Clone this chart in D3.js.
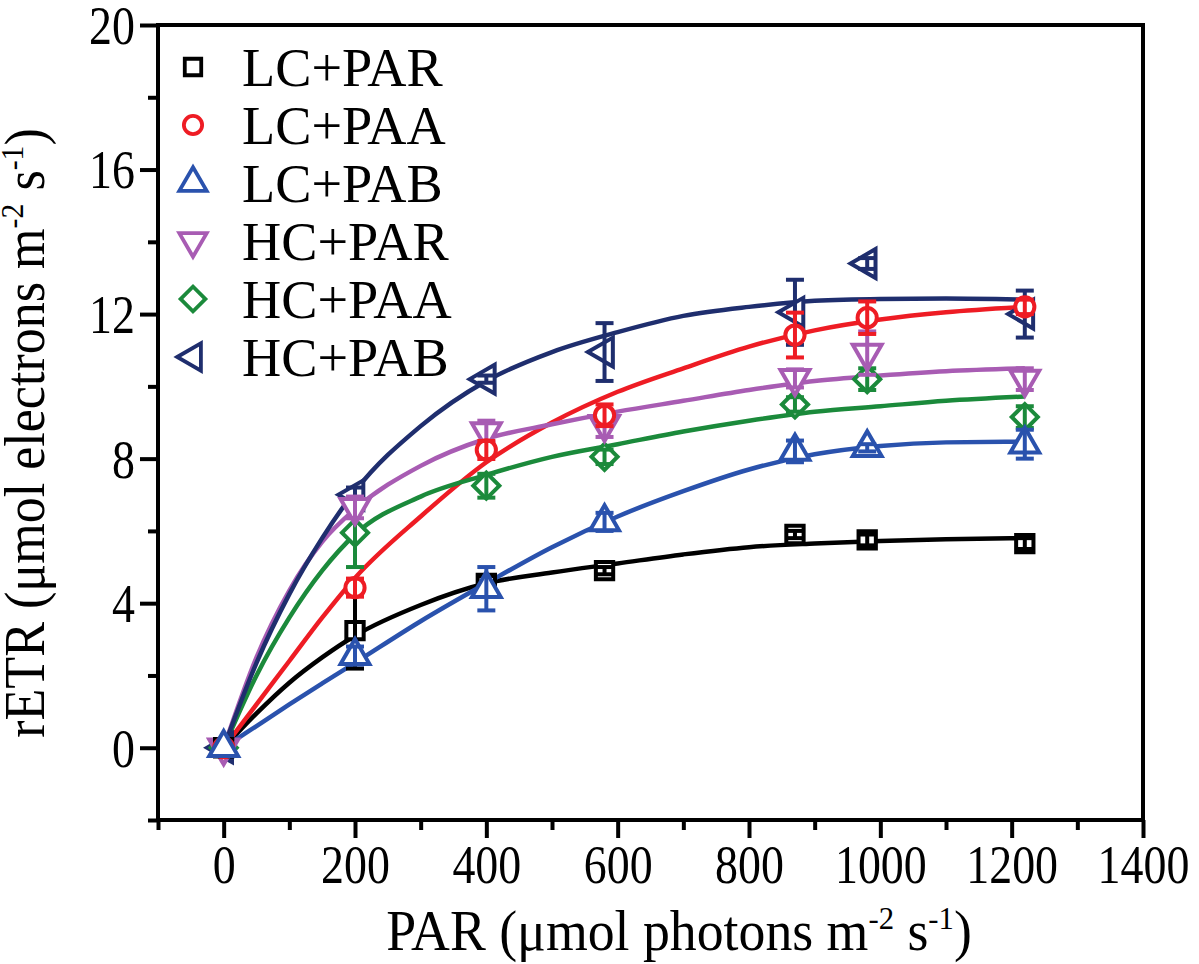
<!DOCTYPE html>
<html>
<head>
<meta charset="utf-8">
<script src="https://cdn.jsdelivr.net/npm/d3@7"></script>
<style>
  body { margin: 0; background: #fff; }
  text { font-family: "Liberation Serif", "Times New Roman", serif; fill: #000; }
</style>
</head>
<body>
<div id="chart"></div>
<script>
// measured PAR levels
var parLevels = [0, 200, 400, 580, 870, 980, 1220];

// means and error bars
var lcParMean = [0, 3.24, 4.55, 4.9, 5.9, 5.75, 5.65];
var lcParErr  = [0, 1.05, 0.2, 0.1, 0.1, 0.15, 0.15];
var lcPaaMean = [0, 4.43, 8.24, 9.2, 11.42, 11.9, 12.2];
var lcPaaErr  = [0, 0.25, 0.25, 0.3, 0.62, 0.45, 0.2];
var lcPabMean = [0, 2.55, 4.4, 6.25, 8.2, 8.3, 8.4];
var lcPabErr  = [0, 0.25, 0.6, 0.25, 0.3, 0.1, 0.4];
var hcParMean = [0, 6.65, 8.75, 8.95, 10.22, 10.92, 10.2];
var hcParErr  = [0, 0.3, 0.3, 0.35, 0.25, 0.6, 0.3];
var hcPaaMean = [0, 5.95, 7.25, 8.05, 9.5, 10.2, 9.15];
var hcPaaErr  = [0, 0.95, 0.33, 0.2, 0.2, 0.3, 0.3];
var hcPabMean = [0, 7.0, 10.2, 10.95, 12.05, 13.4, 12.0];
var hcPabErr  = [0, 0.2, 0.1, 0.8, 0.9, 0.15, 0.65];

// fitted curves, sampled off the figure
var fitPar   = [0, 50, 100, 150, 200, 300, 400, 500, 600, 700, 800, 900, 1000, 1100, 1220];
var lcParFit = [0, 0.95, 1.8, 2.5, 3.1, 3.95, 4.55, 4.85, 5.1, 5.35, 5.55, 5.65, 5.72, 5.77, 5.8];
var lcPaaFit = [0, 1.2, 2.4, 3.6, 4.7, 6.4, 7.9, 9.0, 9.85, 10.5, 11.1, 11.55, 11.85, 12.05, 12.2];
var lcPabFit = [0, 0.6, 1.2, 1.78, 2.35, 3.5, 4.55, 5.55, 6.4, 7.1, 7.7, 8.12, 8.35, 8.45, 8.47];
var hcParFit = [0, 2.5, 4.35, 5.7, 6.6, 7.8, 8.55, 8.95, 9.3, 9.6, 9.9, 10.15, 10.3, 10.42, 10.5];
var hcPaaFit = [0, 2.0, 3.6, 4.9, 5.9, 6.95, 7.55, 8.05, 8.4, 8.75, 9.05, 9.3, 9.45, 9.6, 9.72];
var hcPabFit = [0, 2.35, 4.25, 5.8, 7.1, 8.9, 10.15, 10.95, 11.5, 11.95, 12.2, 12.37, 12.42, 12.43, 12.4];

var seriesNames = ["LC+PAR", "LC+PAA", "LC+PAB", "HC+PAR", "HC+PAA", "HC+PAB"];

var xTicks = [0, 200, 400, 600, 800, 1000, 1200, 1400];
var xMinorTicks = [-100, 100, 300, 500, 700, 900, 1100, 1300];
var yTicks = [0, 4, 8, 12, 16, 20];
var yMinorTicks = [-2, 2, 6, 10, 14, 18];

var series = [
  {name: seriesNames[0], mean: lcParMean, err: lcParErr, fit: lcParFit, color: "#000000", shape: "square"},
  {name: seriesNames[1], mean: lcPaaMean, err: lcPaaErr, fit: lcPaaFit, color: "#ee1c24", shape: "circle"},
  {name: seriesNames[2], mean: lcPabMean, err: lcPabErr, fit: lcPabFit, color: "#2a52ad", shape: "up"},
  {name: seriesNames[3], mean: hcParMean, err: hcParErr, fit: hcParFit, color: "#a85cb3", shape: "down"},
  {name: seriesNames[4], mean: hcPaaMean, err: hcPaaErr, fit: hcPaaFit, color: "#1b8a3b", shape: "diamond"},
  {name: seriesNames[5], mean: hcPabMean, err: hcPabErr, fit: hcPabFit, color: "#1f2e6e", shape: "left"}
];

var W = 1199, H = 964;
var margin = {top: 25, right: 56, bottom: 144, left: 158};
var width = W - margin.left - margin.right,
    height = H - margin.top - margin.bottom;

var svg = d3.select("#chart").append("svg")
    .attr("width", W)
    .attr("height", H);
var g = svg.append("g")
    .attr("transform", "translate(" + margin.left + "," + margin.top + ")");

var x = d3.scaleLinear().domain([-100, 1400]).range([0, width]);
var y = d3.scaleLinear().domain([-2, 20]).range([height, 0]);

// marker paths
function markerPath(shape) {
  if (shape === "square") return d3.symbol().type(d3.symbolSquare).size(300)();
  if (shape === "circle") return d3.symbol().type(d3.symbolCircle).size(290)();
  if (shape === "diamond") return d3.symbol().type(d3.symbolSquare).size(340)();
  return d3.symbol().type(d3.symbolTriangle).size(360)();
}
function markerRotate(shape) {
  if (shape === "down") return 180;
  if (shape === "left") return -90;
  if (shape === "diamond") return 45;
  return 0;
}

// axes
var xAxis = g.append("g")
    .attr("transform", "translate(0," + height + ")")
    .call(d3.axisBottom(x).tickValues(xTicks).tickSize(18).tickSizeOuter(0).tickPadding(7).tickFormat(d3.format("d")));
xAxis.append("g")
    .call(d3.axisBottom(x).tickValues(xMinorTicks).tickSize(10).tickSizeOuter(0).tickFormat(""));

var yAxis = g.append("g")
    .call(d3.axisLeft(y).tickValues(yTicks).tickSize(18).tickSizeOuter(0).tickFormat(d3.format("d")));
yAxis.append("g")
    .call(d3.axisLeft(y).tickValues(yMinorTicks).tickSize(10).tickSizeOuter(0).tickFormat(""));

g.selectAll(".domain").remove();
g.selectAll(".tick line").attr("stroke", "#000").attr("stroke-width", 4);
xAxis.selectAll("text")
    .attr("font-size", 54)
    .attr("font-family", "Liberation Serif")
    .attr("fill", "#000")
    .attr("transform", "scale(0.85,1)");
yAxis.selectAll("text")
    .attr("font-size", 54)
    .attr("font-family", "Liberation Serif")
    .attr("fill", "#000")
    .attr("x", -23 / 0.85)
    .attr("dy", "0.34em")
    .attr("transform", "scale(0.85,1)");

// frame
g.append("rect")
    .attr("x", 0).attr("y", 0)
    .attr("width", width).attr("height", height)
    .attr("fill", "none")
    .attr("stroke", "#000")
    .attr("stroke-width", 4);

// fitted curves
var line = d3.line()
    .x(function(d) { return x(d[0]); })
    .y(function(d) { return y(d[1]); })
    .curve(d3.curveMonotoneX);

series.forEach(function(s) {
  g.append("path")
    .datum(fitPar.map(function(p, i) { return [p, s.fit[i]]; }))
    .attr("d", line)
    .attr("fill", "none")
    .attr("stroke", s.color)
    .attr("stroke-width", 4.5);
});

// points and error bars
var drawOrder = [5, 4, 3, 0, 1, 2];
drawOrder.forEach(function(k) {
  var s = series[k];
  var pts = parLevels.map(function(p, i) { return {p: p, m: s.mean[i], e: s.err[i]}; });
  var grp = g.append("g");

  grp.selectAll("path.mk")
    .data(pts)
    .enter().append("path")
    .attr("class", "mk")
    .attr("d", markerPath(s.shape))
    .attr("transform", function(d) {
      return "translate(" + x(d.p) + "," + y(d.m) + ") rotate(" + markerRotate(s.shape) + ")";
    })
    .attr("fill", "#fff")
    .attr("stroke", s.color)
    .attr("stroke-width", 4);

  var eb = grp.selectAll("g.eb")
    .data(pts.filter(function(d) { return d.e > 0; }))
    .enter().append("g")
    .attr("class", "eb")
    .attr("stroke", s.color)
    .attr("stroke-width", 4);
  eb.append("line")
    .attr("x1", function(d) { return x(d.p); })
    .attr("x2", function(d) { return x(d.p); })
    .attr("y1", function(d) { return y(d.m + d.e); })
    .attr("y2", function(d) { return y(d.m - d.e); });
  eb.append("line")
    .attr("x1", function(d) { return x(d.p) - 9; })
    .attr("x2", function(d) { return x(d.p) + 9; })
    .attr("y1", function(d) { return y(d.m + d.e); })
    .attr("y2", function(d) { return y(d.m + d.e); });
  eb.append("line")
    .attr("x1", function(d) { return x(d.p) - 9; })
    .attr("x2", function(d) { return x(d.p) + 9; })
    .attr("y1", function(d) { return y(d.m - d.e); })
    .attr("y2", function(d) { return y(d.m - d.e); });
});

// legend
var legend = svg.append("g");
series.forEach(function(s, i) {
  var cy = 67 + i * 58;
  legend.append("path")
    .attr("d", markerPath(s.shape))
    .attr("transform", "translate(193," + cy + ") rotate(" + markerRotate(s.shape) + ") scale(0.95)")
    .attr("fill", "#fff")
    .attr("stroke", s.color)
    .attr("stroke-width", 4);
  legend.append("g")
    .attr("transform", "translate(242," + (cy + 19) + ") scale(0.97,1)")
    .append("text")
    .attr("font-size", 56)
    .text(s.name);
});

// axis titles
var xt = svg.append("g")
    .attr("transform", "translate(679,950) scale(0.96,1)")
    .append("text")
    .attr("text-anchor", "middle")
    .attr("font-size", 56);
xt.append("tspan").text("PAR (\u03bcmol photons m");
xt.append("tspan").attr("font-size", 32).attr("dy", -21).text("-2");
xt.append("tspan").attr("dy", 21).text(" s");
xt.append("tspan").attr("font-size", 32).attr("dy", -21).text("-1");
xt.append("tspan").attr("dy", 21).text(")");

var yt = svg.append("g")
    .attr("transform", "translate(44,433) rotate(-90) scale(0.93,1)")
    .append("text")
    .attr("text-anchor", "middle")
    .attr("font-size", 56);
yt.append("tspan").text("rETR (\u03bcmol electrons m");
yt.append("tspan").attr("font-size", 32).attr("dy", -21).text("-2");
yt.append("tspan").attr("dy", 21).text(" s");
yt.append("tspan").attr("font-size", 32).attr("dy", -21).text("-1");
yt.append("tspan").attr("dy", 21).text(")");
</script>
</body>
</html>
